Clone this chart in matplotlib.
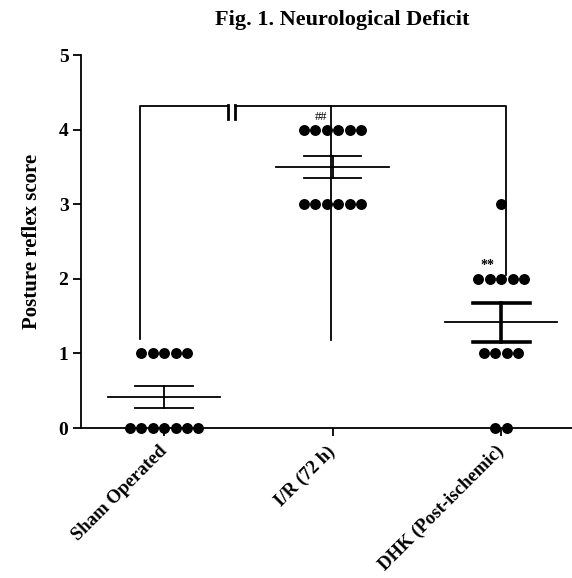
import matplotlib
matplotlib.use("Agg")
import matplotlib.pyplot as plt
import numpy as np

# ---- data ----
categories = ["Sham Operated", "I/R (72 h)", "DHK (Post-ischemic)"]
sham_scores = [1, 1, 1, 1, 1, 0, 0, 0, 0, 0, 0, 0]
ir_scores = [4, 4, 4, 4, 4, 4, 3, 3, 3, 3, 3, 3]
dhk_scores = [3, 2, 2, 2, 2, 2, 1, 1, 1, 1, 0, 0]
y_ticks = [0, 1, 2, 3, 4, 5]
title = "Fig. 1. Neurological Deficit"
ylabel = "Posture reflex score"
annotations = ["", "##", "**"]

plt.rcParams['font.family'] = ['Liberation Serif', 'DejaVu Serif']

fig = plt.figure(figsize=(5.72, 5.78), dpi=100)
ax = fig.add_axes([0.1416, 0.2595, 0.8584, 0.6453])

groups = [sham_scores, ir_scores, dhk_scores]
dx = 0.068
err_lw = [1.3, 1.3, 2.6]
for gi, scores in enumerate(groups):
    scores = np.array(scores, dtype=float)
    for val in np.unique(scores):
        n = int(np.sum(scores == val))
        xs = gi + (np.arange(n) - (n - 1) / 2.0) * dx
        ax.scatter(xs, [val] * n, s=62, color='black', zorder=4, clip_on=False, linewidths=0)
    mean = scores.mean()
    sem = scores.std(ddof=1) / np.sqrt(len(scores))
    ax.plot([gi - 0.333, gi + 0.333], [mean, mean], color='black', lw=1.3, zorder=3)
    ax.plot([gi - 0.17, gi + 0.17], [mean + sem, mean + sem], color='black', lw=err_lw[gi], zorder=3)
    ax.plot([gi - 0.17, gi + 0.17], [mean - sem, mean - sem], color='black', lw=err_lw[gi], zorder=3)
    ax.plot([gi, gi], [mean - sem, mean + sem], color='black', lw=err_lw[gi], zorder=3)

# significance bracket
by = 4.32
ax.plot([-0.14, -0.14, 0.38], [1.19, by, by], color='black', lw=1.3)
ax.plot([0.42, 2.03, 2.03], [by, by, 2.05], color='black', lw=1.3)
ax.plot([0.99, 0.99], [by, 1.18], color='black', lw=1.3)
ax.plot([0.38, 0.38], [by + 0.01, 4.14], color='black', lw=2.0)
ax.plot([0.42, 0.42], [by + 0.01, 4.14], color='black', lw=2.0)

ax.text(0.93, 4.17, annotations[1], ha='center', va='center', fontsize=9)
ax.text(1.92, 2.18, annotations[2], ha='center', va='center', fontsize=10, fontweight='bold')

ax.set_xlim(-0.4926, 2.42)
ax.set_ylim(0, 5)
ax.set_yticks(y_ticks)
ax.set_yticklabels([str(t) for t in y_ticks], fontsize=14, fontweight='bold')
ax.set_xticks(range(len(categories)))
ax.set_xticklabels(categories, fontsize=13.5, fontweight='bold', rotation=45,
                   ha='right', va='center', rotation_mode='anchor')
ax.tick_params(axis='both', direction='out', length=6, width=1.3, pad=3)
ax.tick_params(axis='x', pad=9)
for side in ['top', 'right']:
    ax.spines[side].set_visible(False)
for side in ['left', 'bottom']:
    ax.spines[side].set_linewidth(1.3)

ax.set_ylabel(ylabel, fontsize=15, fontweight='bold', labelpad=12)
fig.text(0.598, 0.966, title, ha='center', va='center', fontsize=16, fontweight='bold')

fig.savefig("out.png", dpi=100)
